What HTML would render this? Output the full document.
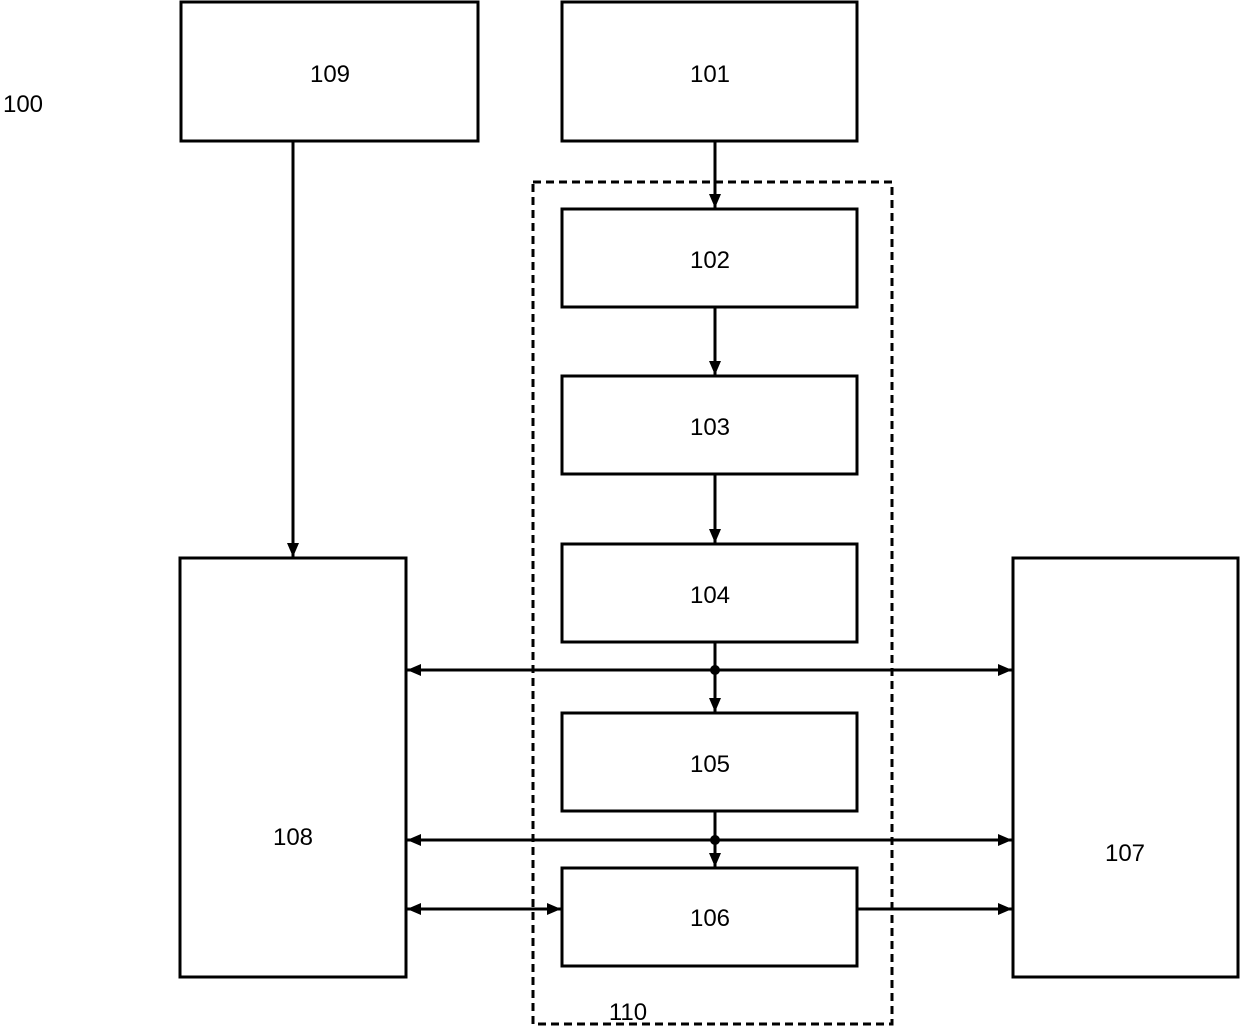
<!DOCTYPE html>
<html><head><meta charset="utf-8"><style>
html,body{margin:0;padding:0;background:#fff;}
svg{display:block;}
text{font-family:"Liberation Sans",Arial,sans-serif;font-size:24px;fill:#000;text-anchor:middle;}
</style></head><body>
<svg width="1240" height="1027" viewBox="0 0 1240 1027" xmlns="http://www.w3.org/2000/svg">
<defs>
<marker id="a" viewBox="0 0 14 12" refX="14" refY="6" markerWidth="14" markerHeight="12" markerUnits="userSpaceOnUse" orient="auto-start-reverse">
<path d="M0,0 L14,6 L0,12 Z" fill="#000"/></marker>
</defs>
<g fill="none" stroke="#000" stroke-width="3">
<rect x="181" y="2" width="297" height="139"/>
<rect x="562" y="2" width="295" height="139"/>
<rect x="533" y="182" width="359" height="842" stroke-dasharray="8,5"/>
<rect x="562" y="209" width="295" height="98"/>
<rect x="562" y="376" width="295" height="98"/>
<rect x="562" y="544" width="295" height="98"/>
<rect x="562" y="713" width="295" height="98"/>
<rect x="562" y="868" width="295" height="98"/>
<rect x="180" y="558" width="226" height="419"/>
<rect x="1013" y="558" width="225" height="419"/>
<line x1="293" y1="141" x2="293" y2="557" marker-end="url(#a)"/>
<line x1="715" y1="141" x2="715" y2="208" marker-end="url(#a)"/>
<line x1="715" y1="307" x2="715" y2="375" marker-end="url(#a)"/>
<line x1="715" y1="474" x2="715" y2="543" marker-end="url(#a)"/>
<line x1="715" y1="642" x2="715" y2="712" marker-end="url(#a)"/>
<line x1="715" y1="811" x2="715" y2="867" marker-end="url(#a)"/>
<line x1="407" y1="670" x2="1012" y2="670" marker-start="url(#a)" marker-end="url(#a)"/>
<line x1="407" y1="840" x2="1012" y2="840" marker-start="url(#a)" marker-end="url(#a)"/>
<line x1="407" y1="909" x2="561" y2="909" marker-start="url(#a)" marker-end="url(#a)"/>
<line x1="857" y1="909" x2="1012" y2="909" marker-end="url(#a)"/>
</g>
<circle cx="715" cy="670" r="5" fill="#000"/>
<circle cx="715" cy="840" r="5" fill="#000"/>
<text x="330" y="82">109</text>
<text x="710" y="82">101</text>
<text x="710" y="268">102</text>
<text x="710" y="435">103</text>
<text x="710" y="603">104</text>
<text x="710" y="772">105</text>
<text x="710" y="926">106</text>
<text x="293" y="845">108</text>
<text x="1125" y="861">107</text>
<text x="23" y="112">100</text>
<text x="628" y="1020">110</text>
</svg>
</body></html>
